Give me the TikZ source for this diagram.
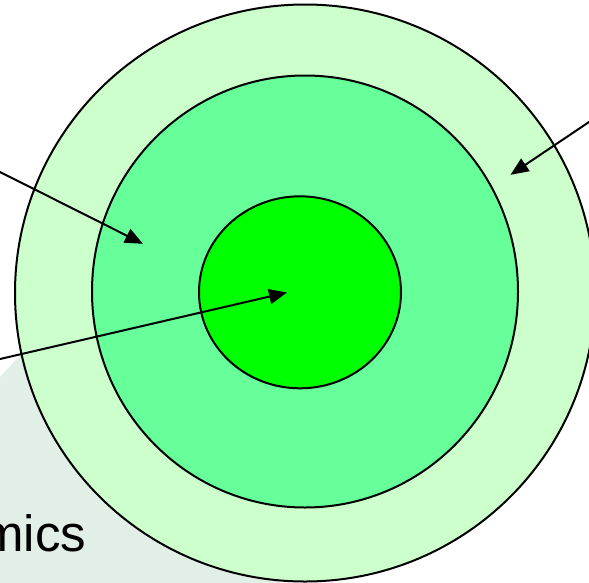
\documentclass[tikz,border=0pt]{standalone}
\usepackage{fontspec}
\setmainfont{Liberation Sans}
\usetikzlibrary{arrows.meta}
\definecolor{bgpanel}{HTML}{E1EFE7}
\definecolor{ringout}{HTML}{CCFFCC}
\definecolor{ringmid}{HTML}{66FF99}
\definecolor{ringin}{HTML}{00FF00}
\tikzset{
  ring/.style={draw=black, line width=2pt},
  pointer/.style={draw=black, line width=2pt, -{Triangle[length=18pt,width=15pt]}}
}
\begin{document}
\begin{tikzpicture}[x=1pt,y=-1pt]
\useasboundingbox (0,0) rectangle (589,582);
% background panel
\fill[bgpanel] (0,377) -- (30,345) -- (280,345) -- (280,600) -- (0,600) -- cycle;
\node[anchor=base west, inner sep=0pt, font=\fontsize{51}{61}\selectfont] (word) at (-19,551) {mics};
% rings
\path[ring, fill=ringout] (305,293) ellipse [x radius=290, y radius=288.5];
\path[ring, fill=ringmid] (305,291.5) ellipse [x radius=213, y radius=216];
\path[ring, fill=ringin] (300,292.3) ellipse [x radius=101, y radius=96];
% arrow end points
\coordinate (a1s) at (-6,169);
\coordinate (a1e) at (143,243.8);
\coordinate (a2s) at (-6,360.4);
\coordinate (a2e) at (287,292.5);
\coordinate (a3s) at (596,117.3);
\coordinate (a3e) at (510.5,174.8);
\draw[pointer] (a1s) -- (a1e);
\draw[pointer] (a2s) -- (a2e);
\draw[pointer] (a3s) -- (a3e);
\end{tikzpicture}
\end{document}
